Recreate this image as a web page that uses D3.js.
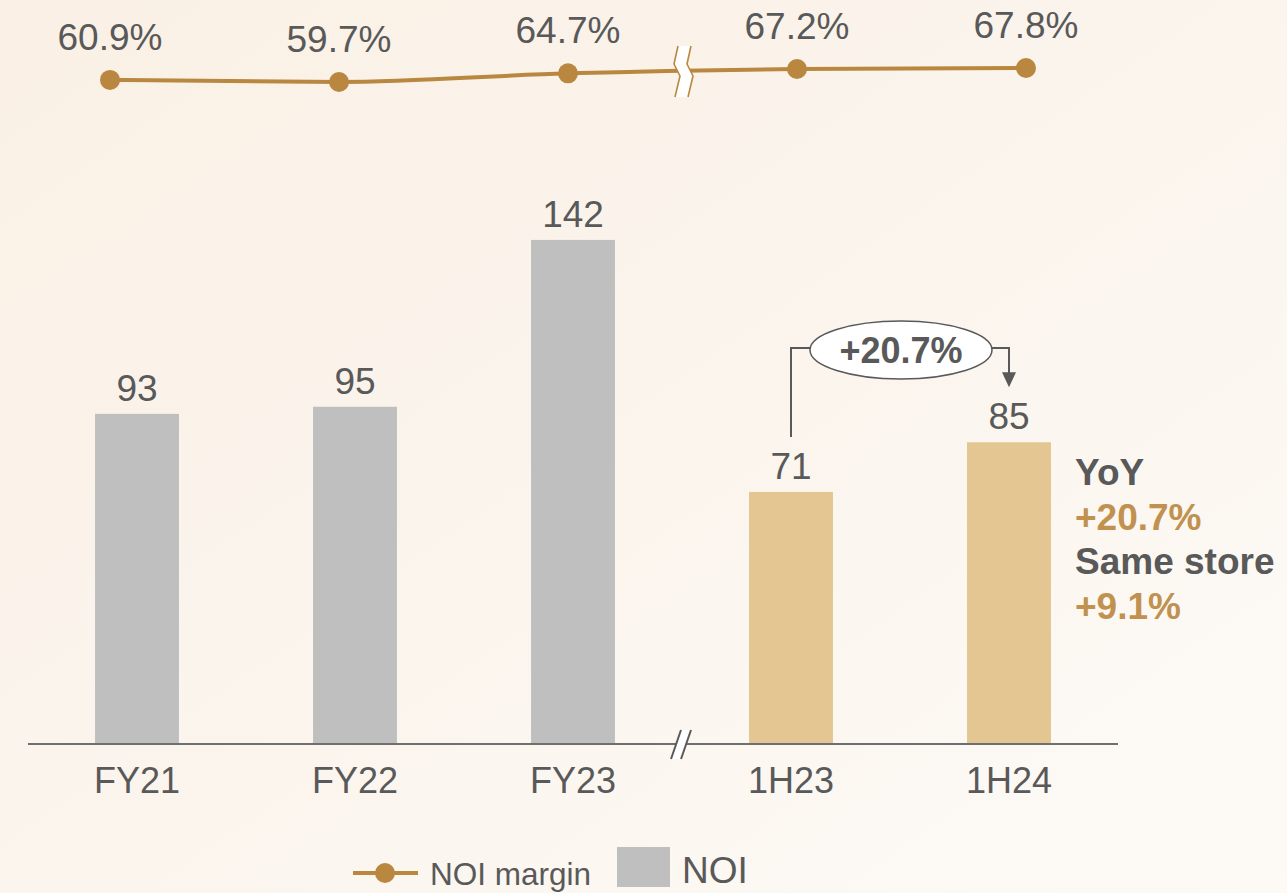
<!DOCTYPE html>
<html>
<head>
<meta charset="utf-8">
<script src="https://cdn.jsdelivr.net/npm/d3@7"></script>
<style>
  html, body { margin: 0; padding: 0; }
  body { width: 1287px; height: 893px; overflow: hidden; }
  text { font-family: "Liberation Sans", Arial, sans-serif; }
</style>
</head>
<body>
<svg id="chart" width="1287" height="893"></svg>
<script>
const categories = ["FY21", "FY22", "FY23", "1H23", "1H24"];
const noiValues = [93, 95, 142, 71, 85];
const marginValues = [60.9, 59.7, 64.7, 67.2, 67.8];
const marginLabels = ["60.9%", "59.7%", "64.7%", "67.2%", "67.8%"];
const barKinds = ["full", "full", "full", "half", "half"];
const growthLabel = "+20.7%";
const sideLines = [
  { text: "YoY", kind: "dark" },
  { text: "+20.7%", kind: "gold" },
  { text: "Same store", kind: "dark" },
  { text: "+9.1%", kind: "gold" }
];
const legendItems = ["NOI margin", "NOI"];

const C = {
  text: "#595959",
  gold: "#B9873F",
  goldText: "#C0914F",
  barGray: "#BFBFBF",
  barGold: "#E3C691",
  axis: "#6F6F6F"
};

const svg = d3.select("#chart");

// background gradient
const defs = svg.append("defs");
const grad = defs.append("linearGradient").attr("id", "bg")
  .attr("x1", "0%").attr("y1", "0%").attr("x2", "100%").attr("y2", "100%");
grad.append("stop").attr("offset", "0%").attr("stop-color", "#FAF0E5");
grad.append("stop").attr("offset", "55%").attr("stop-color", "#FBF5EE");
grad.append("stop").attr("offset", "100%").attr("stop-color", "#FDFAF6");
svg.append("rect").attr("width", 1287).attr("height", 893).attr("fill", "url(#bg)");

// scales
const baseline = 744;
const x = d3.scaleBand().domain(categories).range([28, 1118])
  .paddingInner(0.615).paddingOuter(0.3075);
const y = d3.scaleLinear().domain([0, 100]).range([baseline, baseline - 355]);

const xLine = d3.scalePoint().domain(categories).range([110, 1026]);
const yLine = d3.scaleLinear().domain([59.7, 67.8]).range([82, 68]);

// bars
svg.append("g").selectAll("rect").data(categories).join("rect")
  .attr("x", d => x(d))
  .attr("y", (d, i) => y(noiValues[i]))
  .attr("width", x.bandwidth())
  .attr("height", (d, i) => baseline - y(noiValues[i]))
  .attr("fill", (d, i) => barKinds[i] === "full" ? C.barGray : C.barGold);

// bar value labels
svg.append("g").selectAll("text").data(categories).join("text")
  .attr("x", d => x(d) + x.bandwidth() / 2)
  .attr("y", (d, i) => y(noiValues[i]) - 13)
  .attr("text-anchor", "middle")
  .attr("font-size", 37)
  .attr("fill", C.text)
  .text((d, i) => noiValues[i]);

// x axis
const axisG = svg.append("g").attr("transform", `translate(0,${baseline})`)
  .call(d3.axisBottom(x).tickSize(0).tickPadding(0));
axisG.select(".domain").attr("stroke", C.axis).attr("stroke-width", 2)
  .attr("d", "M28,0H1118");
axisG.selectAll(".tick text")
  .attr("font-family", "Liberation Sans, Arial, sans-serif")
  .attr("font-size", 36).attr("fill", C.text)
  .attr("dy", null).attr("y", 49);

// axis break
const brkX = (x(categories[2]) + x.bandwidth() + x(categories[3])) / 2;
const ab = svg.append("g");
ab.append("path")
  .attr("d", `M${brkX - 11},759 L${brkX - 1},730 L${brkX + 9},730 L${brkX - 1},759 Z`)
  .attr("fill", "#FFFFFF").attr("stroke", "none");
ab.append("line").attr("x1", brkX - 11).attr("y1", 759).attr("x2", brkX - 1).attr("y2", 730)
  .attr("stroke", C.text).attr("stroke-width", 2);
ab.append("line").attr("x1", brkX - 1).attr("y1", 759).attr("x2", brkX + 9).attr("y2", 730)
  .attr("stroke", C.text).attr("stroke-width", 2);

// NOI margin line
const lineGen = d3.line()
  .x((d, i) => xLine(categories[i]))
  .y(d => yLine(d))
  .curve(d3.curveMonotoneX);
svg.append("path").datum(marginValues)
  .attr("d", lineGen)
  .attr("fill", "none").attr("stroke", C.gold).attr("stroke-width", 4);

// line break marker
const lb = (xLine(categories[2]) + xLine(categories[3])) / 2 - 0.5;
const leftZ = [[lb - 4, 46], [lb - 8, 64], [lb - 2, 76], [lb - 7, 97]];
const rightZ = [[lb + 9, 46], [lb + 5, 64], [lb + 11, 76], [lb + 6, 97]];
const poly = leftZ.concat(rightZ.slice().reverse());
svg.append("path").attr("d", "M" + poly.map(p => p.join(",")).join("L") + "Z")
  .attr("fill", "#FFFFFF");
[leftZ, rightZ].forEach(z => {
  svg.append("path").attr("d", d3.line()(z))
    .attr("fill", "none").attr("stroke", C.gold).attr("stroke-width", 1.6);
});

// dots
svg.append("g").selectAll("circle").data(marginValues).join("circle")
  .attr("cx", (d, i) => xLine(categories[i]))
  .attr("cy", d => yLine(d))
  .attr("r", 10)
  .attr("fill", C.gold);

// margin labels
svg.append("g").selectAll("text").data(marginValues).join("text")
  .attr("x", (d, i) => xLine(categories[i]))
  .attr("y", d => yLine(d) - 30)
  .attr("text-anchor", "middle")
  .attr("font-size", 37)
  .attr("fill", C.text)
  .text((d, i) => marginLabels[i]);

// growth annotation
const xa = x(categories[3]) + x.bandwidth() / 2;
const xb = x(categories[4]) + x.bandwidth() / 2;
const ay = 348;
const ecx = 901, erx = 91, ery = 29;
const ann = svg.append("g");
ann.append("path")
  .attr("d", `M${xa},${y(noiValues[3]) - 55} V${ay} H${ecx - erx}`)
  .attr("fill", "none").attr("stroke", C.text).attr("stroke-width", 2);
ann.append("path")
  .attr("d", `M${ecx + erx},${ay} H${xb} V${y(noiValues[4]) - 68}`)
  .attr("fill", "none").attr("stroke", C.text).attr("stroke-width", 2);
ann.append("path")
  .attr("d", `M${xb - 7},${y(noiValues[4]) - 70} L${xb + 7},${y(noiValues[4]) - 70} L${xb},${y(noiValues[4]) - 55} Z`)
  .attr("fill", C.text);
ann.append("ellipse").attr("cx", ecx).attr("cy", ay + 2).attr("rx", erx).attr("ry", ery)
  .attr("fill", "#FFFFFF").attr("stroke", C.text).attr("stroke-width", 1.5);
ann.append("text").attr("x", ecx).attr("y", ay + 15)
  .attr("text-anchor", "middle").attr("font-size", 36).attr("font-weight", "bold")
  .attr("fill", C.text).text(growthLabel);

// side text
svg.append("g").selectAll("text").data(sideLines).join("text")
  .attr("x", 1075)
  .attr("y", (d, i) => 485 + i * 44.5)
  .attr("font-size", 37).attr("font-weight", "bold")
  .attr("fill", d => d.kind === "gold" ? C.goldText : C.text)
  .text(d => d.text);

// legend
const lg = svg.append("g");
lg.append("line").attr("x1", 353).attr("x2", 418).attr("y1", 873).attr("y2", 873)
  .attr("stroke", C.gold).attr("stroke-width", 4);
lg.append("circle").attr("cx", 385).attr("cy", 873).attr("r", 10).attr("fill", C.gold);
lg.append("text").attr("x", 430).attr("y", 885).attr("font-size", 31.5)
  .attr("fill", C.text).text(legendItems[0]);
lg.append("rect").attr("x", 617).attr("y", 847).attr("width", 53).attr("height", 40)
  .attr("fill", C.barGray);
lg.append("text").attr("x", 682).attr("y", 883).attr("font-size", 37)
  .attr("fill", C.text).text(legendItems[1]);
</script>
</body>
</html>
